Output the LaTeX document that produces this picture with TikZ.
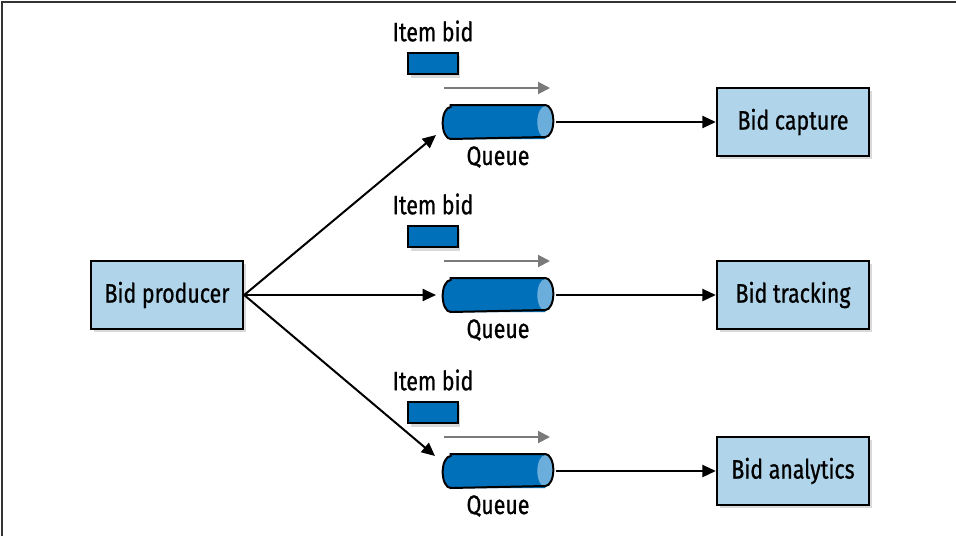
\documentclass[tikz,border=0pt]{standalone}
\usepackage{fontspec}
\setmainfont{Fira Sans}[FakeStretch=0.8,FakeBold=0.8]
\usetikzlibrary{shadows,arrows.meta}

\definecolor{boxblue}{HTML}{B0D4EA}
\definecolor{queueblue}{HTML}{0070BA}
\definecolor{capblue}{HTML}{6BAEDC}
\definecolor{flowgray}{HTML}{7A7A7A}

\begin{document}
\begin{tikzpicture}[x=0.75pt,y=-0.75pt,line width=1.5pt,>={Triangle[length=10pt,width=9pt]}]
    \tikzstyle{every node}=[font=\fontsize{20}{24}\selectfont]
    \tikzstyle{shade}=[drop shadow={shadow xshift=2pt,shadow yshift=-2.5pt,opacity=0.3}]
    \tikzstyle{service}=[draw,line width=1.8pt,fill=boxblue,minimum width=114pt,minimum height=51pt,inner sep=0pt,shade]
    \tikzstyle{queue}=[minimum width=85.5pt,minimum height=24pt,inner sep=0pt]
    \tikzstyle{item}=[draw,line width=1.5pt,fill=queueblue,minimum width=37pt,minimum height=16pt,inner sep=0pt,shade]
    \tikzstyle{flow}=[->,draw=flowgray,line width=1.5pt,>={Triangle[length=9pt,width=9pt]}]

    \useasboundingbox (0,0) rectangle (956,536);
    % Frame
    \draw[line width=0.9pt,black!80] (2,536) -- (2,2) -- (956,2);

    % Draw the producer
    \node[service] (P) at (167,295) {Bid producer};

    % Draw the queues, the items and the consumers
    \foreach \i/\y/\name in {1/122/Bid capture,2/295/Bid tracking,3/471/Bid analytics}
    {
        \node[queue] (Q-\i) at (498,\y) {};
        % queue body, its lighter end cap, then the outline
        \fill[queueblue] ([xshift=8]Q-\i.north west) -- ([xshift=-8]Q-\i.north east)
            -- ([xshift=-8]Q-\i.south east) -- ([xshift=8]Q-\i.south west)
            arc[start angle=270,end angle=90,x radius=6pt,y radius=12pt] -- cycle;
        \fill[capblue] ([xshift=-8]Q-\i.east) ellipse[x radius=6pt,y radius=12pt];
        \draw ([xshift=8]Q-\i.north west) -- ([xshift=-8]Q-\i.north east)
            arc[start angle=90,end angle=-90,x radius=6pt,y radius=12pt]
            -- ([xshift=8]Q-\i.south west)
            arc[start angle=270,end angle=90,x radius=6pt,y radius=12pt] -- cycle;
        \node (QL-\i) at (498,\y+35) {Queue};
        \node[item] (I-\i) at (433,\y-58.5) {};
        \node (IL-\i) at (433,\y-91) {Item bid};
        \node[service] (C-\i) at (793,\y) {\name};
        % Flow direction above the queue
        \draw[flow] ([shift={(4,-17)}]Q-\i.north west) -- ([shift={(-6,-17)}]Q-\i.north east);
        % Connect the queue with its consumer
        \draw[->] (Q-\i.east) -- (C-\i.west);
    }

    % Connect the producer with every queue
    \draw[->] (P.east) -- ([shift={(-4,13)}]Q-1.west);
    \draw[->] (P.east) -- ([shift={(-4,0)}]Q-2.west);
    \draw[->] (P.east) -- ([shift={(-5,-15)}]Q-3.west);
\end{tikzpicture}
\end{document}
